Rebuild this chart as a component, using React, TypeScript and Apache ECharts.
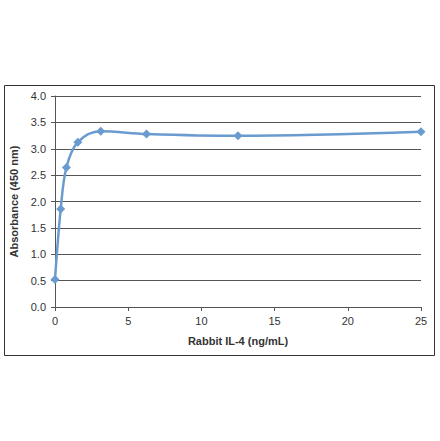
import React, { useEffect, useRef } from 'react';
import * as echarts from 'echarts';

const concentrations = [0, 0.39, 0.78, 1.56, 3.125, 6.25, 12.5, 25];
const absorbance = [0.52, 1.86, 2.645, 3.125, 3.33, 3.28, 3.245, 3.32];
const xTicks = [0, 5, 10, 15, 20, 25];
const yTicks = [0, 0.5, 1, 1.5, 2, 2.5, 3, 3.5, 4];

const App: React.FC = () => {
  const chartRef = useRef<HTMLDivElement>(null);

  useEffect(() => {
    if (!chartRef.current) return;
    const chart = echarts.init(chartRef.current, null, { renderer: 'svg' });

    const font = 'Liberation Sans, Arial, sans-serif';

    const option: echarts.EChartsOption = {
      animation: false,
      backgroundColor: '#ffffff',
      graphic: [
        {
          type: 'rect',
          shape: { x: 4.5, y: 85.5, width: 430, height: 270 },
          style: { fill: 'none', stroke: '#333', lineWidth: 1 },
          silent: true,
        },
      ],
      grid: { left: 55, top: 96, width: 366, height: 211 },
      xAxis: {
        type: 'value',
        min: xTicks[0],
        max: xTicks[xTicks.length - 1],
        interval: 5,
        name: 'Rabbit IL-4 (ng/mL)',
        nameLocation: 'middle',
        nameGap: 28,
        nameTextStyle: { fontFamily: font, fontWeight: 'bold', fontSize: 11, color: '#333' },
        axisLine: { show: true, lineStyle: { color: '#555', width: 1 } },
        axisTick: { show: true, inside: false, length: 4, lineStyle: { color: '#555' } },
        axisLabel: { fontFamily: font, fontSize: 11, color: '#333', margin: 8 },
        splitLine: { show: false },
      },
      yAxis: {
        type: 'value',
        min: yTicks[0],
        max: yTicks[yTicks.length - 1],
        interval: 0.5,
        name: 'Absorbance (450 nm)',
        nameLocation: 'middle',
        nameGap: 33,
        nameTextStyle: { fontFamily: font, fontWeight: 'bold', fontSize: 11, color: '#333' },
        axisLine: { show: true, lineStyle: { color: '#555', width: 1 } },
        axisTick: { show: true, inside: false, length: 4, lineStyle: { color: '#555' } },
        axisLabel: {
          fontFamily: font,
          fontSize: 11,
          color: '#333',
          margin: 9,
          formatter: (v: number) => v.toFixed(1),
        },
        splitLine: { show: true, lineStyle: { color: '#555', width: 1 } },
      },
      series: [
        {
          type: 'line',
          data: concentrations.map((c, i) => [c, absorbance[i]]),
          smooth: 0.35,
          symbol: 'diamond',
          symbolSize: 9,
          lineStyle: { color: '#6a9bcf', width: 2.5 },
          itemStyle: { color: '#6a9bcf' },
        },
      ],
    };

    chart.setOption(option as any);
    return () => {
      chart.dispose();
    };
  }, []);

  return (
    <div
      ref={chartRef}
      style={{ position: 'fixed', left: 0, top: 0, width: 440, height: 441 }}
    />
  );
};

export default App;
